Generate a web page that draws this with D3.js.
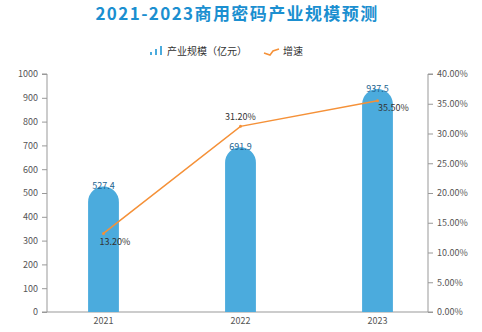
<!DOCTYPE html>
<html><head><meta charset="utf-8">
<script src="https://cdn.jsdelivr.net/npm/d3@7"></script>
<style>body{margin:0;background:#fff}svg{display:block}</style>
</head><body>
<script>
const categories = ["2021", "2022", "2023"];
const scaleValues = [527.4, 691.9, 937.5];
const growthValues = [13.2, 31.2, 35.5];
const leftTicks = [0,100,200,300,400,500,600,700,800,900,1000];
const rightTicks = [0,5,10,15,20,25,30,35,40];
const titleText = "2021-2023商用密码产业规模预测";
const legendLabels = ["产业规模（亿元）", "增速"];

const W = 482, H = 332;
const font = "'Noto Sans CJK SC','Noto Sans',sans-serif";
const svg = d3.select("body").append("svg").attr("width", W).attr("height", H);

const x = d3.scaleBand().domain(categories).range([35, 446]).paddingInner(0.775).paddingOuter(0.3875);
const yL = d3.scaleLinear().domain([0, 1000]).range([312, 74]);
const yR = d3.scaleLinear().domain([0, 40]).range([312, 74]);
const axisLeftX = 47, axisRightX = 428;
const barColor = "#4babdd", lineColor = "#f59138";

svg.append("text").attr("x", 237).attr("y", 19.5).attr("text-anchor", "middle")
  .attr("font-family", font).attr("font-size", 17).attr("font-weight", "bold")
  .attr("letter-spacing", 1.4).attr("fill", "#1b8fd0").text(titleText);

// legend
const lg = svg.append("g").attr("font-family", font).attr("font-size", 10).attr("fill", "#333");
[[150,3],[155,6],[160,9]].forEach(([bx,h]) => {
  lg.append("rect").attr("x", bx).attr("y", 55 - h).attr("width", 2).attr("height", h).attr("fill", barColor);
});
lg.append("text").attr("x", 167).attr("y", 55).text(legendLabels[0]);
lg.append("path").attr("d", "M264,53 L270,55 L273,51 L279,49").attr("fill", "none").attr("stroke", lineColor).attr("stroke-width", 1.5);
lg.append("text").attr("x", 283).attr("y", 55).text(legendLabels[1]);

// axes
const gL = svg.append("g").attr("transform", `translate(${axisLeftX},0)`)
  .call(d3.axisLeft(yL).tickValues(leftTicks).tickSize(5).tickPadding(4).tickFormat(d3.format("d")));
const gR = svg.append("g").attr("transform", `translate(${axisRightX},0)`)
  .call(d3.axisRight(yR).tickValues(rightTicks).tickSize(5).tickPadding(4).tickFormat(d => d.toFixed(2) + "%"));
[gL, gR].forEach(g => {
  g.select(".domain").attr("stroke", "#999").attr("d", `M${g === gL ? -5 : 5},74H0V312H${g === gL ? -5 : 5}`);
  g.selectAll(".tick line").attr("stroke", "#999");
  g.selectAll(".tick text").attr("fill", "#555").attr("font-family", font).attr("font-size", 9);
});
const gX = svg.append("g").attr("transform", "translate(0,312)")
  .call(d3.axisBottom(x).tickSize(0).tickPadding(6));
gX.select(".domain").attr("stroke", "#999").attr("d", `M${axisLeftX},0H${axisRightX}`);
gX.selectAll(".tick text").attr("fill", "#555").attr("font-family", font).attr("font-size", 9);

// bars with rounded tops
const bw = x.bandwidth();
svg.append("g").selectAll("path").data(categories).join("path")
  .attr("fill", barColor)
  .attr("d", (c, i) => {
    const x0 = x(c), x1 = x0 + bw, top = yL(scaleValues[i]), r = bw / 2, bottom = yL(0);
    return `M${x0},${bottom}V${top + r}A${r},${r} 0 0 1 ${x1},${top + r}V${bottom}Z`;
  });
svg.append("g").selectAll("text").data(categories).join("text")
  .attr("x", c => x(c) + bw / 2).attr("y", (c, i) => yL(scaleValues[i]) + 3)
  .attr("text-anchor", "middle").attr("font-family", font).attr("font-size", 9)
  .attr("fill", "#22638f").text((c, i) => scaleValues[i]);

// line
const line = d3.line().x((d, i) => x(categories[i]) + bw / 2).y(d => yR(d));
svg.append("path").datum(growthValues).attr("d", line).attr("fill", "none")
  .attr("stroke", lineColor).attr("stroke-width", 1.5);
svg.append("g").selectAll("circle").data(growthValues).join("circle")
  .attr("cx", (d, i) => x(categories[i]) + bw / 2).attr("cy", d => yR(d)).attr("r", 1.5)
  .attr("fill", lineColor);
const labOff = [[-4, 12, "start"], [0, -6, "middle"], [0, 10, "middle"]];
const labDx = [0, 0, 16];
svg.append("g").selectAll("text").data(growthValues).join("text")
  .attr("x", (d, i) => x(categories[i]) + bw / 2 + labDx[i] + labOff[i][0]).attr("y", (d, i) => yR(d) + labOff[i][1])
  .attr("text-anchor", (d, i) => labOff[i][2]).attr("font-family", font).attr("font-size", 9)
  .attr("fill", "#333").text(d => d.toFixed(2) + "%");
</script>
</body></html>
